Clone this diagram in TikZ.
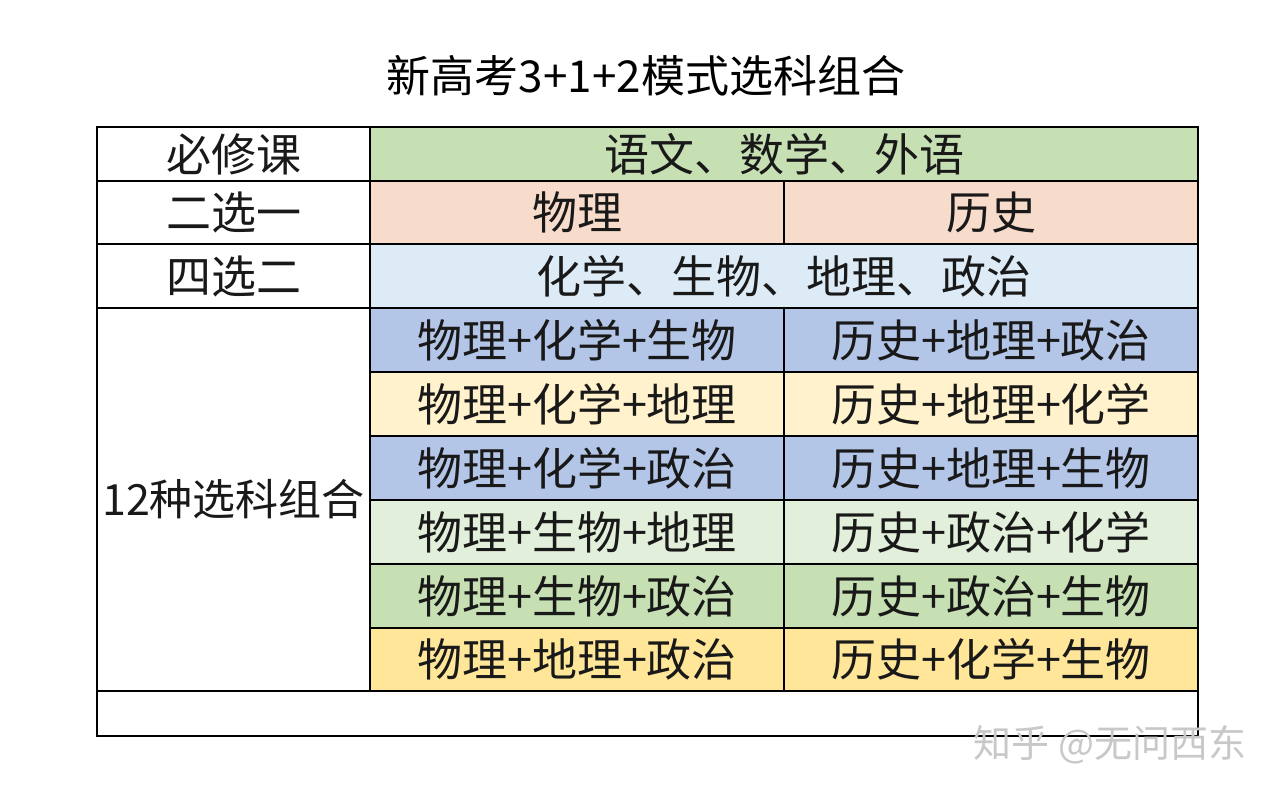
\documentclass[tikz,border=0pt]{standalone}
\usepackage{fontspec}
\setmainfont{Noto Sans CJK SC}
\definecolor{cgreen}{HTML}{C6E0B4}
\definecolor{cpeach}{HTML}{F8DCCB}
\definecolor{clblue}{HTML}{DDEBF7}
\definecolor{cblue}{HTML}{B4C6E7}
\definecolor{cyel}{HTML}{FFF2CC}
\definecolor{clgreen}{HTML}{E2EFDA}
\definecolor{cgold}{HTML}{FFE699}
\definecolor{cwm}{HTML}{C8C8C8}
\begin{document}
\begin{tikzpicture}[x=1pt,y=-1pt,
 cell/.style={draw=black,line width=2pt,inner sep=0pt,font=\fontsize{45}{48}\selectfont,text=black!90}]
\useasboundingbox[fill=white] (0,0) rectangle (1279,800);
\node[font=\fontsize{44}{48}\selectfont] (title) at (646,76) {新高考3+1+2模式选科组合};
\newcommand{\cellat}[7]{% name, x1,y1,x2,y2, fill, text
 \node[cell,fill=#6,minimum width={#4-#2},minimum height={#5-#3}] (#1) at ({(#2+#4)/2},{(#3+#5)/2}) {#7};}
\cellat{l1}{97}{127}{370}{181}{white}{必修课}
\cellat{r1}{370}{127}{1198}{181}{cgreen}{语文、数学、外语}
\cellat{l2}{97}{181}{370}{244}{white}{二选一}
\cellat{r2a}{370}{181}{784}{244}{cpeach}{物理}
\cellat{r2b}{784}{181}{1198}{244}{cpeach}{历史}
\cellat{l3}{97}{244}{370}{308}{white}{四选二}
\cellat{r3}{370}{244}{1198}{308}{clblue}{化学、生物、地理、政治}
\cellat{l4}{97}{308}{370}{691}{white}{\fontsize{43}{46}\selectfont 12种选科组合}
\cellat{a1}{370}{308}{784}{372}{cblue}{物理+化学+生物}
\cellat{b1}{784}{308}{1198}{372}{cblue}{历史+地理+政治}
\cellat{a2}{370}{372}{784}{436}{cyel}{物理+化学+地理}
\cellat{b2}{784}{372}{1198}{436}{cyel}{历史+地理+化学}
\cellat{a3}{370}{436}{784}{500}{cblue}{物理+化学+政治}
\cellat{b3}{784}{436}{1198}{500}{cblue}{历史+地理+生物}
\cellat{a4}{370}{500}{784}{564}{clgreen}{物理+生物+地理}
\cellat{b4}{784}{500}{1198}{564}{clgreen}{历史+政治+化学}
\cellat{a5}{370}{564}{784}{628}{cgreen}{物理+生物+政治}
\cellat{b5}{784}{564}{1198}{628}{cgreen}{历史+政治+生物}
\cellat{a6}{370}{628}{784}{691}{cgold}{物理+地理+政治}
\cellat{b6}{784}{628}{1198}{691}{cgold}{历史+化学+生物}
\cellat{bot}{97}{691}{1198}{736}{white}{}
\node[text=cwm,font=\fontsize{38}{42}\selectfont] (wm) at (1110,745) {知乎 @无问西东};
\end{tikzpicture}
\end{document}
